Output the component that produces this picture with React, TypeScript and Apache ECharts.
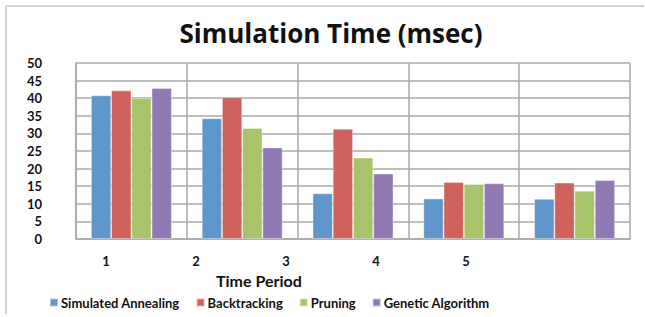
import React, { useEffect, useRef } from "react";
import * as echarts from "echarts";

const categories = ["1", "2", "3", "4", "5"];
const seriesNames = ["Simulated Annealing", "Backtracking", "Pruning", "Genetic Algorithm"];
const simulatedAnnealing = [40.8, 34.3, 13.0, 11.5, 11.4];
const backtracking = [42.2, 40.3, 31.3, 16.2, 16.0];
const pruning = [40.0, 31.5, 23.1, 15.6, 13.7];
const geneticAlgorithm = [42.9, 26.0, 18.6, 15.8, 16.7];
const colors = ["#6196CB", "#CF625C", "#A8C46A", "#917AB4"];
const yMin = 0;
const yMax = 50;
const yInterval = 5;

export default function App() {
  const ref = useRef<HTMLDivElement>(null);
  useEffect(() => {
    if (!ref.current) return;
    const chart = echarts.init(ref.current, null, { renderer: "svg" });
    const font = "Lato, 'Open Sans', sans-serif";
    const titleFont = "'Open Sans', sans-serif";
    const values = [simulatedAnnealing, backtracking, pruning, geneticAlgorithm];
    chart.setOption({
      animation: false,
      backgroundColor: "#ffffff",
      textStyle: { fontFamily: font },
      title: {
        text: "Simulation Time (msec)",
        left: 326,
        textAlign: "center",
        top: 15,
        textStyle: { fontFamily: titleFont, fontWeight: "bold", fontSize: 26, color: "#111" },
      },
      legend: {
        data: seriesNames,
        left: 49,
        top: 296,
        padding: 0,
        itemWidth: 8,
        itemHeight: 8,
        itemGap: 16,
        icon: "rect",
        textStyle: { fontFamily: font, fontWeight: "bold", fontSize: 13, color: "#111", padding: [0, 0, 0, -2] },
      },
      grid: [
        { left: 76, top: 63, right: 15, bottom: 78, containLabel: false },
        { left: 61, width: 450, top: 63, bottom: 78, containLabel: false },
      ],
      xAxis: [
        {
          type: "category",
          gridIndex: 0,
          data: categories,
          axisLine: { show: true, lineStyle: { color: "#a8a8a8", width: 1.5 } },
          axisTick: { show: false },
          axisLabel: { show: false },
          splitLine: { show: true, lineStyle: { color: "#a8a8a8", width: 1.5 } },
        },
        {
          type: "category",
          gridIndex: 1,
          data: categories,
          axisLine: { show: false },
          axisTick: { show: false },
          splitLine: { show: false },
          axisLabel: { show: true, margin: 15, fontFamily: font, fontWeight: "bold", fontSize: 13, color: "#111" },
        },
      ],
      yAxis: [
        {
          type: "value",
          gridIndex: 0,
          min: yMin,
          max: yMax,
          interval: yInterval,
          axisLine: { show: true, lineStyle: { color: "#a8a8a8", width: 1.5 } },
          axisTick: { show: false },
          splitLine: { show: true, lineStyle: { color: "#a8a8a8", width: 1.5 } },
          axisLabel: { margin: 34, fontFamily: font, fontWeight: "bold", fontSize: 13, color: "#111" },
        },
        {
          type: "value",
          gridIndex: 1,
          show: false,
          min: yMin,
          max: yMax,
        },
      ],
      series: seriesNames.map((name, i) => ({
        name,
        type: "bar",
        xAxisIndex: 0,
        yAxisIndex: 0,
        data: values[i],
        barGap: "0%",
        barCategoryGap: "27%",
        itemStyle: { color: colors[i], borderColor: "rgba(255,255,255,0.5)", borderWidth: 0.8 },
      })),
      graphic: [
        {
          type: "text",
          left: 258 - 42,
          top: 272,
          style: { text: "Time Period", font: `bold 16px ${font}`, fill: "#111" },
        },
        {
          type: "line",
          shape: { x1: 6, y1: 6, x2: 644, y2: 6 },
          style: { stroke: "#d4d4d4", lineWidth: 2 },
        },
        {
          type: "line",
          shape: { x1: 6, y1: 6, x2: 6, y2: 314 },
          style: { stroke: "#d4d4d4", lineWidth: 2 },
        },
      ],
    });
    return () => chart.dispose();
  }, []);
  return <div ref={ref} style={{ position: "fixed", left: 0, top: 0, width: 645, height: 317 }} />;
}
